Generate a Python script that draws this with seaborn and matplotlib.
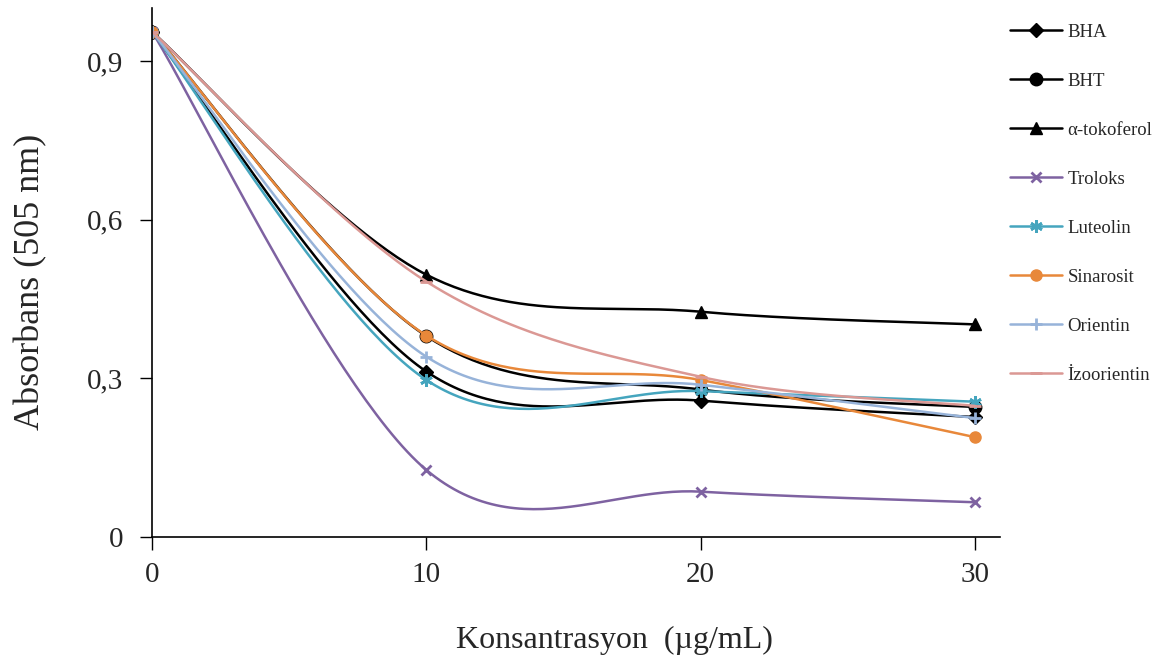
import numpy as np
import pandas as pd
import matplotlib
matplotlib.use("Agg")
import matplotlib.pyplot as plt
import seaborn as sns
from matplotlib.lines import Line2D

concentrations = [0, 10, 20, 30]
bha = [0.955, 0.313, 0.258, 0.227]
bht = [0.955, 0.380, 0.279, 0.246]
tokoferol = [0.955, 0.496, 0.426, 0.402]
troloks = [0.955, 0.127, 0.086, 0.066]
luteolin = [0.955, 0.297, 0.276, 0.256]
sinarosit = [0.955, 0.381, 0.297, 0.189]
orientin = [0.955, 0.341, 0.288, 0.225]
izoorientin = [0.955, 0.483, 0.303, 0.248]

names = ["BHA", "BHT", "α-tokoferol", "Troloks", "Luteolin", "Sinarosit", "Orientin", "İzoorientin"]
values = [bha, bht, tokoferol, troloks, luteolin, sinarosit, orientin, izoorientin]
colors = ["#000000", "#000000", "#000000", "#7E62A1", "#45A5BE", "#E8883A", "#97B3D9", "#DB9894"]
markers = ["D", "o", "^", "x", (6, 2, 0), "o", "+", "_"]
msizes = [7, 9, 9, 7, 9, 8, 8, 8]

sns.set_theme(style="white")
plt.rcParams['font.family'] = ['Liberation Serif', 'DejaVu Serif']

fig = plt.figure(figsize=(11.61, 6.64), dpi=100)
ax = fig.add_axes([0.131, 0.191, 0.730, 0.797])


def smooth(xs, ys, n=60):
    # Excel-like smoothed line: cubic Bezier with Catmull-Rom tangents
    P = np.column_stack([xs, ys]).astype(float)
    m = len(P)
    out = []
    for i in range(m - 1):
        p0 = P[i - 1] if i > 0 else P[i]
        p1 = P[i]
        p2 = P[i + 1]
        p3 = P[i + 2] if i + 2 < m else P[i + 1]
        c1 = p1 + (p2 - p0) / 6.0
        c2 = p2 - (p3 - p1) / 6.0
        t = np.linspace(0, 1, n)[:, None]
        seg = ((1 - t) ** 3) * p1 + 3 * ((1 - t) ** 2) * t * c1 + 3 * (1 - t) * t ** 2 * c2 + t ** 3 * p2
        if i > 0:
            seg = seg[1:]
        out.append(seg)
    out = np.vstack(out)
    return out[:, 0], out[:, 1]


handles = []
for name, vals, col, mk, ms in zip(names, values, colors, markers, msizes):
    sx, sy = smooth(concentrations, vals)
    df = pd.DataFrame({"x": sx, "y": sy})
    sns.lineplot(data=df, x="x", y="y", ax=ax, color=col, lw=1.8, sort=False, estimator=None)
    mew = 2 if mk in ("x", "+", "_", (6, 2, 0)) else 1
    ax.plot(concentrations, vals, linestyle="none", marker=mk, markersize=ms, color=col,
            markeredgecolor=col, markeredgewidth=mew)
    handles.append(Line2D([0], [0], color=col, lw=1.8, marker=mk, markersize=ms,
                          markeredgecolor=col, markeredgewidth=mew))

ax.set_xlim(0, 30.9)
ax.set_ylim(0, 1.0)
ax.set_xticks([0, 10, 20, 30])
ax.set_yticks([0, 0.3, 0.6, 0.9])
ax.set_yticklabels(["0", "0,3", "0,6", "0,9"])
ax.tick_params(axis="both", which="both", direction="out", length=9, width=1, color="black",
               labelsize=21, bottom=True, left=True)
ax.tick_params(axis="y", pad=12)
ax.tick_params(axis="x", pad=9)
for s in ["top", "right"]:
    ax.spines[s].set_visible(False)
for s in ["left", "bottom"]:
    ax.spines[s].set_color("black")
    ax.spines[s].set_linewidth(1.2)

ax.set_xlabel("Konsantrasyon  (µg/mL)", fontsize=23, va="center")
ax.xaxis.set_label_coords(0.545, -0.195)
ax.set_ylabel("Absorbans (505 nm)", fontsize=26, va="center")
ax.yaxis.set_label_coords(-0.143, 0.482)

leg = fig.legend(handles, names, loc="upper left", bbox_to_anchor=(0.870, 0.964), frameon=False,
                 fontsize=13.5, handlelength=2.75, handletextpad=0.3, labelspacing=1.70,
                 borderaxespad=0, borderpad=0)

fig.savefig("out.png", dpi=100)
